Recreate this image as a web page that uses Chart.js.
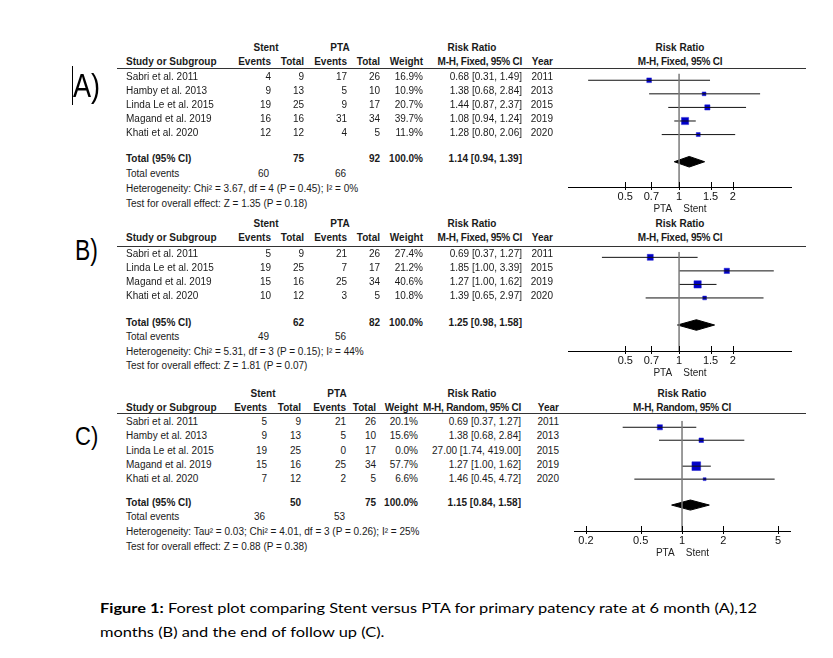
<!DOCTYPE html>
<html>
<head>
<meta charset="utf-8">
<script src="https://cdn.jsdelivr.net/npm/chart.js@4.4.0/dist/chart.umd.min.js"></script>
<style>
  body { margin: 0; background: #fff; width: 833px; height: 658px; position: relative; overflow: hidden; font-family: "Liberation Sans", Arial, sans-serif; }
  .t { position: absolute; white-space: nowrap; font-size: 10px; line-height: 12px; height: 12px; color: #1a1a1a; }
  .b { font-weight: bold; }
  .tight { letter-spacing: -0.25px; }
  .rule { position: absolute; height: 1px; background: #333; }
  .lab { position: absolute; line-height: 1; color: #000; transform-origin: left top; }
  .cap { position: absolute; left: 100px; font-family: Lato, "Open Sans", sans-serif; font-size: 14px; line-height: 24px; white-space: nowrap; color: #000; transform-origin: left top; }
  canvas { position: absolute; }
</style>
</head>
<body>
<canvas id="plotA" width="234" height="149" style="left:563px;top:68px"></canvas>
<canvas id="plotB" width="234" height="135" style="left:563px;top:246px"></canvas>
<canvas id="plotC" width="229" height="147" style="left:568px;top:414px"></canvas>

<script>
// ---- A) 6 months ----
const studiesA = ["Sabri et al. 2011", "Hamby et al. 2013", "Linda Le et al. 2015", "Magand et al. 2019", "Khati et al. 2020"];
const stentEventsA = [4, 9, 19, 16, 12];
const stentTotalA = [9, 13, 25, 16, 12];
const ptaEventsA = [17, 5, 9, 31, 4];
const ptaTotalA = [26, 10, 17, 34, 5];
const weightA = [16.9, 10.9, 20.7, 39.7, 11.9];
const rrA = [0.68, 1.38, 1.44, 1.08, 1.28];
const lowA = [0.31, 0.68, 0.87, 0.94, 0.80];
const highA = [1.49, 2.84, 2.37, 1.24, 2.06];
const yearA = [2011, 2013, 2015, 2019, 2020];
const pooledA = [1.14, 0.94, 1.39];
const sumTotalsA = [75, 92];
const sumEventsA = [60, 66];
const hetA = "Heterogeneity: Chi\u00b2 = 3.67, df = 4 (P = 0.45); I\u00b2 = 0%";
const testA = "Test for overall effect: Z = 1.35 (P = 0.18)";

// ---- B) 12 months ----
const studiesB = ["Sabri et al. 2011", "Linda Le et al. 2015", "Magand et al. 2019", "Khati et al. 2020"];
const stentEventsB = [5, 19, 15, 10];
const stentTotalB = [9, 25, 16, 12];
const ptaEventsB = [21, 7, 25, 3];
const ptaTotalB = [26, 17, 34, 5];
const weightB = [27.4, 21.2, 40.6, 10.8];
const rrB = [0.69, 1.85, 1.27, 1.39];
const lowB = [0.37, 1.00, 1.00, 0.65];
const highB = [1.27, 3.39, 1.62, 2.97];
const yearB = [2011, 2015, 2019, 2020];
const pooledB = [1.25, 0.98, 1.58];
const sumTotalsB = [62, 82];
const sumEventsB = [49, 56];
const hetB = "Heterogeneity: Chi\u00b2 = 5.31, df = 3 (P = 0.15); I\u00b2 = 44%";
const testB = "Test for overall effect: Z = 1.81 (P = 0.07)";

// ---- C) end of follow up ----
const studiesC = ["Sabri et al. 2011", "Hamby et al. 2013", "Linda Le et al. 2015", "Magand et al. 2019", "Khati et al. 2020"];
const stentEventsC = [5, 9, 19, 15, 7];
const stentTotalC = [9, 13, 25, 16, 12];
const ptaEventsC = [21, 5, 0, 25, 2];
const ptaTotalC = [26, 10, 17, 34, 5];
const weightC = [20.1, 15.6, 0.0, 57.7, 6.6];
const rrC = [0.69, 1.38, 27.00, 1.27, 1.46];
const lowC = [0.37, 0.68, 1.74, 1.00, 0.45];
const highC = [1.27, 2.84, 419.00, 1.62, 4.72];
const yearC = [2011, 2013, 2015, 2019, 2020];
const pooledC = [1.15, 0.84, 1.58];
const sumTotalsC = [50, 75];
const sumEventsC = [36, 53];
const hetC = "Heterogeneity: Tau\u00b2 = 0.03; Chi\u00b2 = 4.01, df = 3 (P = 0.26); I\u00b2 = 25%";
const testC = "Test for overall effect: Z = 0.88 (P = 0.38)";

// axis tick labels
const ticksAB = [0.5, 0.7, 1, 1.5, 2];
const ticksC = [0.2, 0.5, 1, 2, 5];

function fmtCI(r, lo, hi) {
  return r.toFixed(2) + " [" + lo.toFixed(2) + ", " + hi.toFixed(2) + "]";
}

function put(x, y, s, align, cls) {
  const el = document.createElement("div");
  el.className = "t" + (cls ? " " + cls : "");
  el.textContent = s;
  el.style.left = x + "px";
  el.style.top = (y - 6) + "px";
  if (align === "r") el.style.transform = "translateX(-100%)";
  if (align === "c") el.style.transform = "translateX(-50%)";
  document.body.appendChild(el);
}

function rule(x1, x2, y) {
  const el = document.createElement("div");
  el.className = "rule";
  el.style.left = x1 + "px";
  el.style.width = (x2 - x1) + "px";
  el.style.top = y + "px";
  document.body.appendChild(el);
}

// left text table of each panel
function table(d, L) {
  const c = L.cols;
  put(L.stentX, L.h1, "Stent", "c", "b");
  put(L.ptaX, L.h1, "PTA", "c", "b");
  put(L.rrX, L.h1, "Risk Ratio", "c", "b");
  put(L.plotX, L.h1, "Risk Ratio", "c", "b");
  put(126, L.h2, "Study or Subgroup", "l", "b");
  ["Events", "Total", "Events", "Total", "Weight"].forEach((h, k) => put(c[k], L.h2, h, "r", "b"));
  put(c[5], L.h2, d.method, "r", "b tight");
  put(c[6], L.h2, "Year", "r", "b");
  put(L.plotX, L.h2, d.method, "c", "b tight");
  rule(117, 806, L.rule);
  d.studies.forEach((s, i) => {
    const y = L.row0 + i * L.step;
    put(126, y, s);
    const vals = [d.stentEv[i], d.stentTot[i], d.ptaEv[i], d.ptaTot[i], d.weight[i].toFixed(1) + "%",
      fmtCI(d.rr[i], d.low[i], d.high[i]), d.year[i]];
    vals.forEach((v, k) => put(c[k], y, String(v), "r"));
  });
  put(126, L.tot, "Total (95% CI)", "l", "b");
  put(c[1], L.tot, String(d.sums[0]), "r", "b");
  put(c[3], L.tot, String(d.sums[1]), "r", "b");
  put(c[4], L.tot, "100.0%", "r", "b");
  put(c[5], L.tot, fmtCI(d.pooled[0], d.pooled[1], d.pooled[2]), "r", "b");
  put(126, L.ev, "Total events");
  put(c[0] - 2, L.ev, String(d.events[0]), "r");
  put(c[2] - 1, L.ev, String(d.events[1]), "r");
  put(126, L.het, d.het);
  put(126, L.test, d.test);
}

// small tick marks crossing the axis line
const tickMarks = {
  id: "tickMarks",
  afterDraw(chart) {
    const s = chart.scales.x, ctx = chart.ctx;
    ctx.save();
    ctx.strokeStyle = "#000";
    ctx.lineWidth = 1;
    s.ticks.forEach(t => {
      const x = Math.round(s.getPixelForValue(t.value)) + 0.5;
      ctx.beginPath();
      ctx.moveTo(x, s.top - 5);
      ctx.lineTo(x, s.top + 3);
      ctx.stroke();
    });
    ctx.restore();
  }
};

function forest(id, d, L) {
  const datasets = [];
  // line of no effect
  datasets.push({ data: [{ x: 1, y: L.yMin }, { x: 1, y: L.yMax }], showLine: true, borderColor: "#7a7a7a", borderWidth: 1.5, pointRadius: 0 });
  // confidence intervals
  d.rr.forEach((r, i) => {
    if (!(d.weight[i] > 0)) return;
    datasets.push({ data: [{ x: d.low[i], y: i }, { x: d.high[i], y: i }], showLine: true, borderColor: "#111", borderWidth: 1, pointRadius: 0 });
  });
  // study estimates, square size from weight
  const idx = d.rr.map((r, i) => i).filter(i => d.weight[i] > 0);
  datasets.push({
    data: idx.map(i => ({ x: d.rr[i], y: i })),
    pointStyle: "rect",
    pointRadius: idx.map(i => 0.81 * Math.sqrt(d.weight[i])),
    backgroundColor: "#0000c8",
    borderColor: "#2020d0",
    borderWidth: 0.5
  });
  // pooled diamond
  const [est, lo, hi] = d.pooled;
  const r = L.totalRow, h = 0.39;
  datasets.push({
    data: [{ x: lo, y: r }, { x: est, y: r - h }, { x: hi, y: r }, { x: est, y: r + h }, { x: lo, y: r }],
    showLine: true, fill: "shape", backgroundColor: "#000", borderColor: "#000", borderWidth: 1, pointRadius: 0
  });

  new Chart(document.getElementById(id), {
    type: "scatter",
    data: { datasets },
    options: {
      responsive: false,
      animation: false,
      events: [],
      layout: { padding: 0 },
      plugins: { legend: { display: false }, tooltip: { enabled: false } },
      scales: {
        x: {
          type: "logarithmic",
          min: L.xMin, max: L.xMax,
          position: "bottom",
          afterBuildTicks: s => { s.ticks = d.ticks.map(v => ({ value: v })); },
          afterFit: s => { s.height = 30; },
          grid: { display: false, drawTicks: false },
          border: { display: true, color: "#000", width: 1 },
          ticks: {
            color: "#111", padding: 3, autoSkip: false, maxRotation: 0,
            font: { family: "Liberation Sans", size: 11 },
            callback: v => String(v)
          },
          title: {
            display: true, text: "PTA    Stent", color: "#222",
            font: { family: "Liberation Sans", size: 10 },
            padding: { top: 0, bottom: 2 }
          }
        },
        y: { type: "linear", display: false, reverse: true, min: L.yMin, max: L.yMax }
      }
    },
    plugins: [tickMarks]
  });
}

function panelLabel(text, x, top, size, sx) {
  const el = document.createElement("div");
  el.className = "lab";
  el.textContent = text;
  el.style.left = x + "px";
  el.style.top = top + "px";
  el.style.fontSize = size + "px";
  el.style.transform = "scaleX(" + sx + ")";
  document.body.appendChild(el);
}

const dataA = { studies: studiesA, stentEv: stentEventsA, stentTot: stentTotalA, ptaEv: ptaEventsA, ptaTot: ptaTotalA,
  weight: weightA, rr: rrA, low: lowA, high: highA, year: yearA, pooled: pooledA, sums: sumTotalsA, events: sumEventsA,
  het: hetA, test: testA, method: "M-H, Fixed, 95% CI", ticks: ticksAB };
const dataB = { studies: studiesB, stentEv: stentEventsB, stentTot: stentTotalB, ptaEv: ptaEventsB, ptaTot: ptaTotalB,
  weight: weightB, rr: rrB, low: lowB, high: highB, year: yearB, pooled: pooledB, sums: sumTotalsB, events: sumEventsB,
  het: hetB, test: testB, method: "M-H, Fixed, 95% CI", ticks: ticksAB };
const dataC = { studies: studiesC, stentEv: stentEventsC, stentTot: stentTotalC, ptaEv: ptaEventsC, ptaTot: ptaTotalC,
  weight: weightC, rr: rrC, low: lowC, high: highC, year: yearC, pooled: pooledC, sums: sumTotalsC, events: sumEventsC,
  het: hetC, test: testC, method: "M-H, Random, 95% CI", ticks: ticksC };

table(dataA, { cols: [271, 304, 347, 380, 423, 522, 553], stentX: 266, ptaX: 340, rrX: 472, plotX: 680,
  h1: 48, h2: 62, rule: 68, row0: 77, step: 14, tot: 159, ev: 174, het: 189, test: 204 });
table(dataB, { cols: [271, 304, 347, 380, 423, 522, 553], stentX: 266, ptaX: 340, rrX: 472, plotX: 680,
  h1: 224, h2: 238, rule: 246, row0: 254, step: 14, tot: 323, ev: 337, het: 352, test: 366 });
table(dataC, { cols: [267, 301, 346, 376, 418, 521, 559], stentX: 263, ptaX: 337, rrX: 472, plotX: 682,
  h1: 394, h2: 408, rule: 413, row0: 422, step: 14.25, tot: 503, ev: 517, het: 532, test: 547 });

forest("plotA", dataA, { xMin: 0.241, xMax: 4.25, yMin: -0.49, yMax: 7.86, totalRow: 6 });
forest("plotB", dataB, { xMin: 0.241, xMax: 4.25, yMin: -0.42, yMax: 6.92, totalRow: 5 });
forest("plotC", dataC, { xMin: 0.1655, xMax: 6.14, yMin: -0.51, yMax: 8.0, totalRow: 6 });

panelLabel("A)", 73, 69, 33, 0.82);
panelLabel("B)", 75, 236, 29, 0.79);
panelLabel("C)", 75, 424, 25, 0.88);
// text cursor mark next to A)
const cur = document.createElement("div");
cur.style.cssText = "position:absolute;left:72px;top:66px;width:1px;height:39px;background:#000";
document.body.appendChild(cur);

// caption
const cap1 = document.createElement("div");
cap1.className = "cap";
cap1.style.top = "596px";
cap1.innerHTML = "<b>Figure 1:</b> Forest plot comparing Stent versus PTA for primary patency rate at 6 month (A),12";
document.body.appendChild(cap1);
const cap2 = document.createElement("div");
cap2.className = "cap";
cap2.style.top = "620px";
cap2.textContent = "months (B) and the end of follow up (C).";
document.body.appendChild(cap2);
const k = 657 / cap1.getBoundingClientRect().width;
cap1.style.transform = "scaleX(" + k + ")";
cap2.style.transform = "scaleX(" + k + ")";
</script>
</body>
</html>
